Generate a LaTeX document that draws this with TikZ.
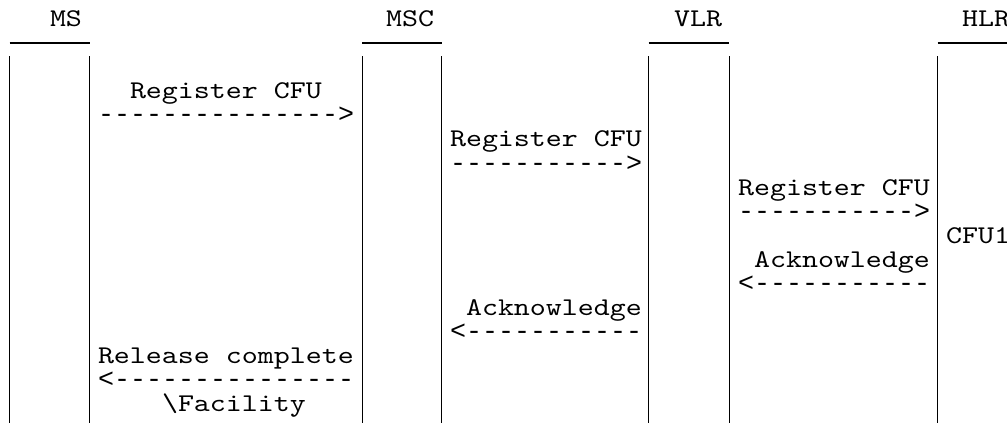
\documentclass[tikz,border=0pt]{standalone}
\usepackage{fontspec}
\newfontfamily\asciimono[Extension=.otf,FakeStretch=1.195]{lmmono10-regular}
\newfontfamily\arrowmono{Liberation Mono}
\begin{document}
\begin{tikzpicture}[x=1pt,y=-1pt,
  txt/.style={anchor=base west,inner sep=0pt,outer sep=0pt,
    font=\asciimono\fontsize{25.5}{24}\selectfont,text=black},
  arr/.style={anchor=base west,inner sep=0pt,outer sep=0pt,
    font=\arrowmono\fontsize{26.67}{24}\selectfont,text=black},
  bar/.style={draw=black,line width=1pt},
  topline/.style={draw=black,line width=2pt}]
\fill[white] (0,0) rectangle (1007,423);
\useasboundingbox (0,0) rectangle (1007,423);
% headers
\node[txt] (ms)  at (50,26.7)  {MS};
\node[txt] (msc) at (386,26.7) {MSC};
\node[txt] (vlr) at (674,26.7) {VLR};
\node[txt] (hlr) at (962,26.7) {HLR};
% lifeline boxes
\foreach \n/\xa/\xb in {a/9.5/89.5, b/362/441.5, c/648.5/729, d/937.5/1010}{
  \coordinate (\n ul) at (\xa,43.3);
  \coordinate (\n ur) at (\xb,43.3);
  \coordinate (\n lt) at (\xa,56);
  \coordinate (\n lb) at (\xa,424);
  \coordinate (\n rt) at (\xb,56);
  \coordinate (\n rb) at (\xb,424);
  \draw[topline] (\n ul) -- (\n ur);
  \draw[bar] (\n lt) -- (\n lb);
  \draw[bar] (\n rt) -- (\n rb);
}
% messages
\node[txt] (r1)  at (130,98.85)  {Register CFU};
\node[arr] (r1a) at (98,122.9)   {--------------->};
\node[txt] (r2)  at (450,146.95) {Register CFU};
\node[arr] (r2a) at (450,171.0)  {----------->};
\node[txt] (r3)  at (738,195.05) {Register CFU};
\node[arr] (r3a) at (738,219.1)  {----------->};
\node[txt] (cfu) at (946,243.15) {CFU1};
\node[txt] (k3)  at (754,267.2)  {Acknowledge};
\node[arr] (k3a) at (738,291.25) {<----------{}-};
\node[txt] (k2)  at (466,315.3)  {Acknowledge};
\node[arr] (k2a) at (450,339.35) {<----------{}-};
\node[txt] (rc)  at (98,363.4)   {Release complete};
\node[arr] (rca) at (98,387.45)  {<--------------{}-};
\node[txt] (fac) at (162,411.5)  {\textbackslash Facility};
\end{tikzpicture}
\end{document}
